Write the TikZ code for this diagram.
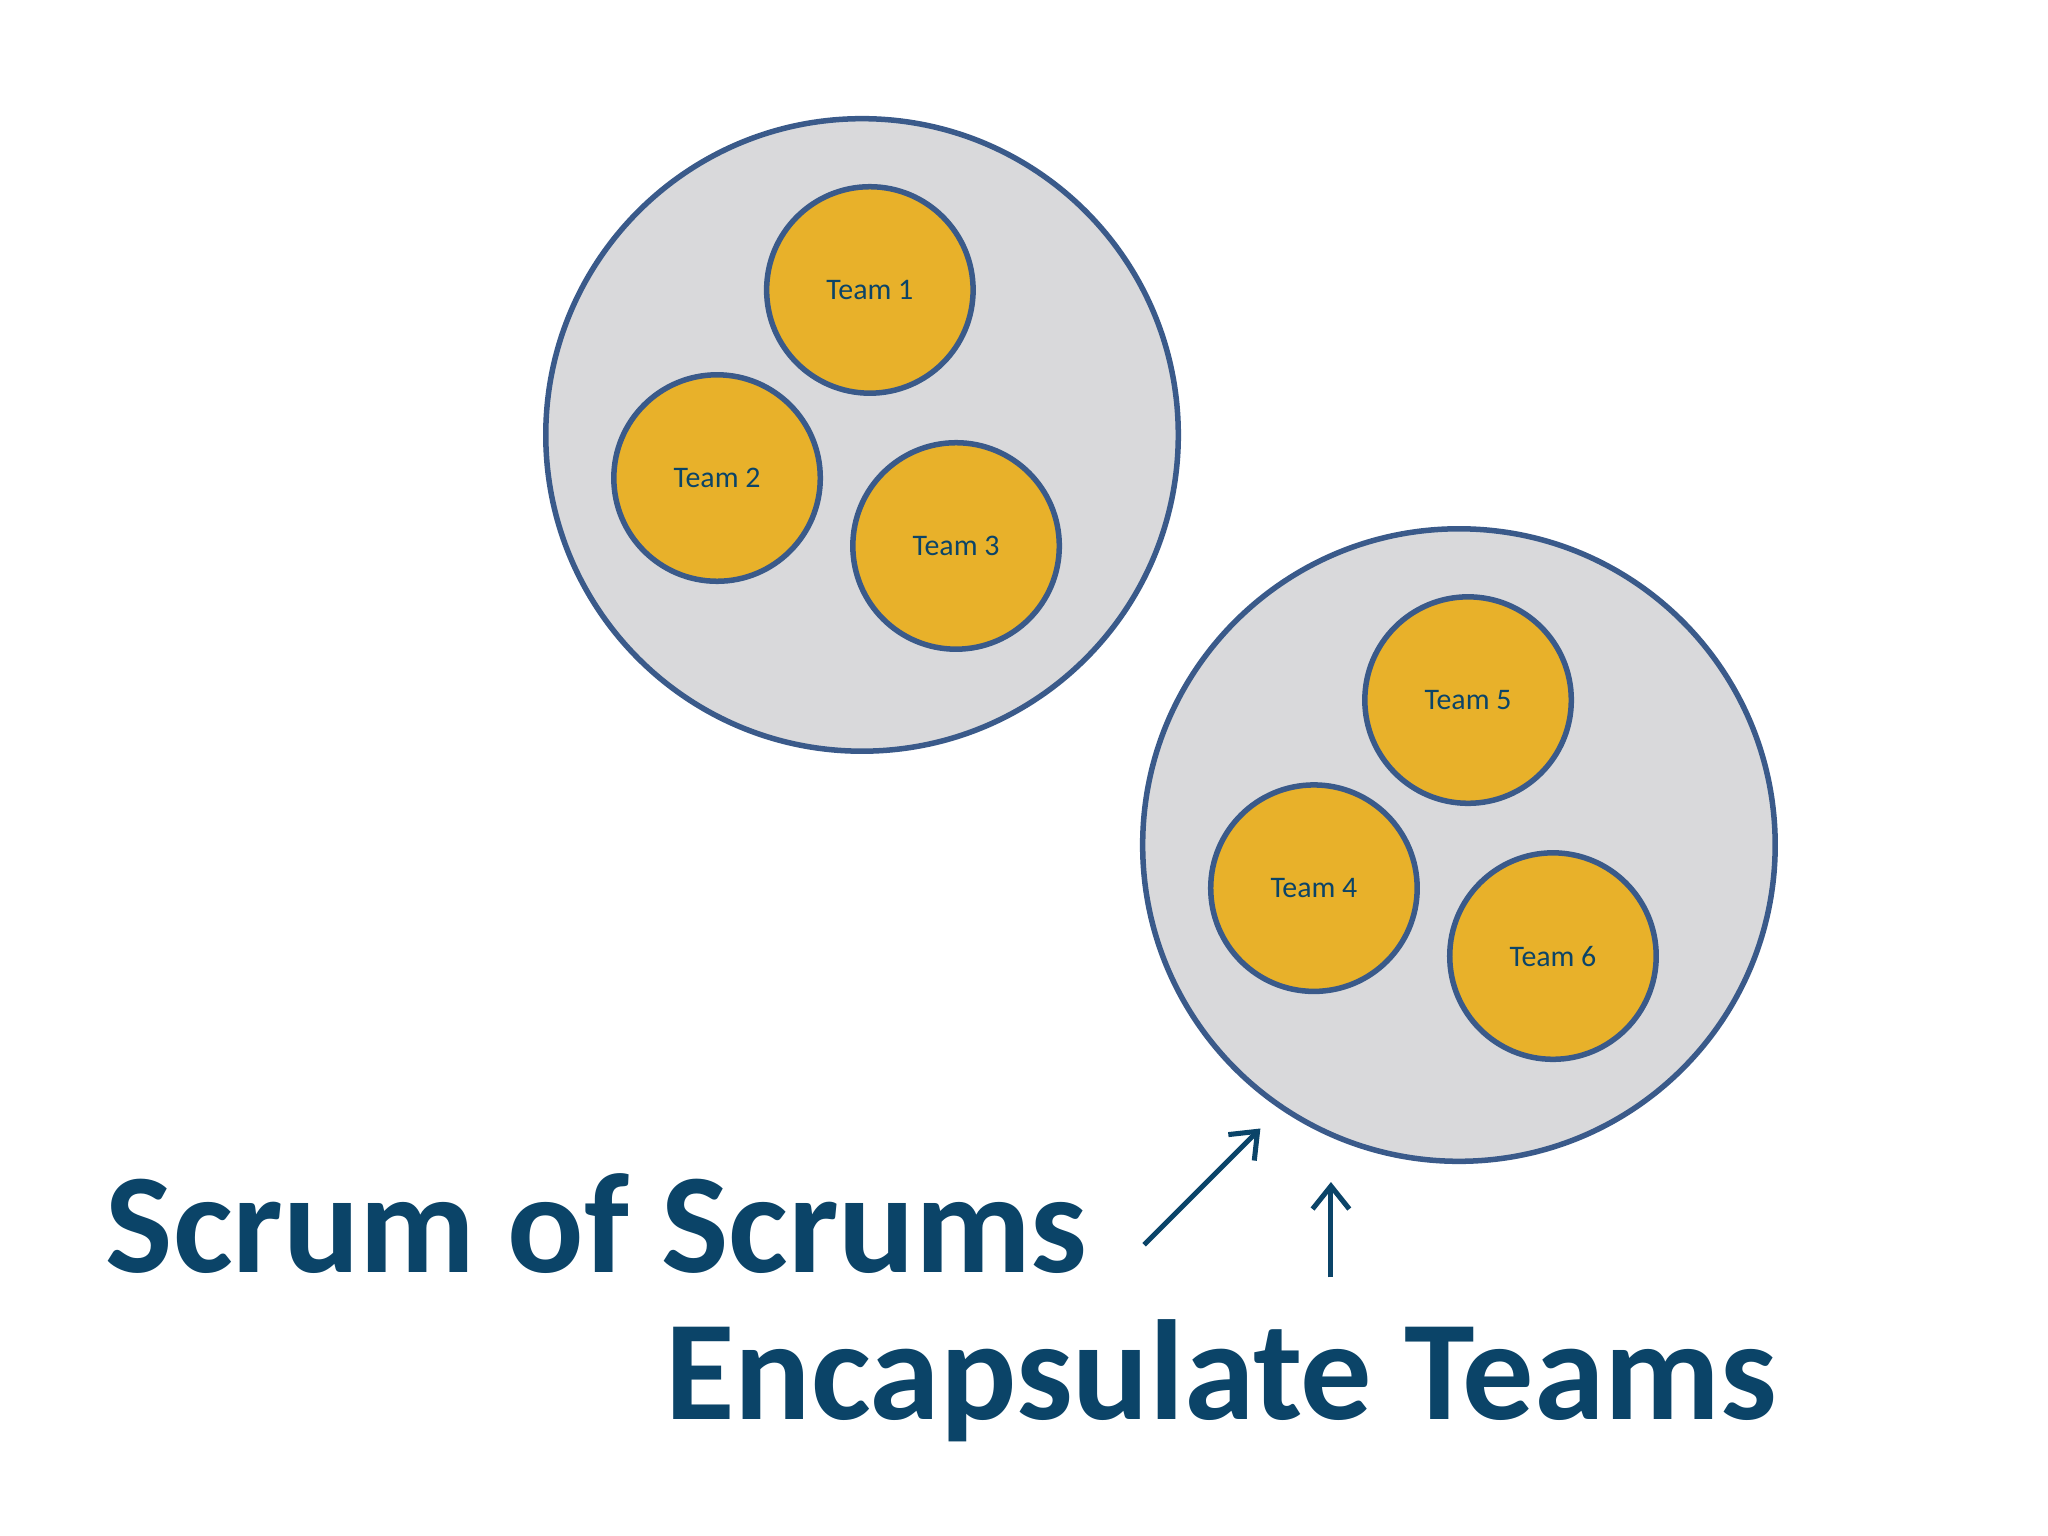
\documentclass[tikz,border=0pt]{standalone}
\usepackage{fontspec}
\setmainfont{Carlito}
\usetikzlibrary{arrows.meta}
\begin{document}
\begin{tikzpicture}[x=0.01cm,y=-0.01cm,
  big/.style={circle,draw=edge,line width=1.2pt,fill=grayf,minimum size=4.84cm,inner sep=0},
  team/.style={circle,draw=edge,line width=1.2pt,fill=gold,minimum size=1.58cm,inner sep=0,text=navy,font=\fontsize{6.5pt}{7pt}\selectfont},
  title/.style={text=navy,font=\bfseries\fontsize{31pt}{34pt}\selectfont,inner sep=0},
  arr/.style={->,draw=navy,line width=1.1pt,>={Straight Barb[length=5pt,width=8pt]}}]
\definecolor{edge}{HTML}{3A5A8A}
\definecolor{grayf}{HTML}{D9D9DB}
\definecolor{gold}{HTML}{E8B12A}
\definecolor{navy}{HTML}{0B4468}
\useasboundingbox (0,0) rectangle (1568,1176);
\fill[white] (0,0) rectangle (1568,1176);
\node[big] (g1) at (660,333) {};
\node[big] (g2) at (1117,647) {};
\node[team] (t1) at (666,222) {Team 1};
\node[team] (t2) at (549,366) {Team 2};
\node[team] (t3) at (732,418) {Team 3};
\node[team] (t5) at (1124,536) {Team 5};
\node[team] (t4) at (1006,680) {Team 4};
\node[team] (t6) at (1189,732) {Team 6};
\node[title] (s) at (457,937) {Scrum of Scrums};
\node[title] (e) at (935,1057) {Encapsulate Teams};
\coordinate (a1s) at (876,953);
\coordinate (a1e) at (965,864);
\coordinate (a2s) at (1019,978);
\coordinate (a2e) at (1019,905);
\draw[arr] (a1s) -- (a1e);
\draw[arr] (a2s) -- (a2e);
\end{tikzpicture}
\end{document}
